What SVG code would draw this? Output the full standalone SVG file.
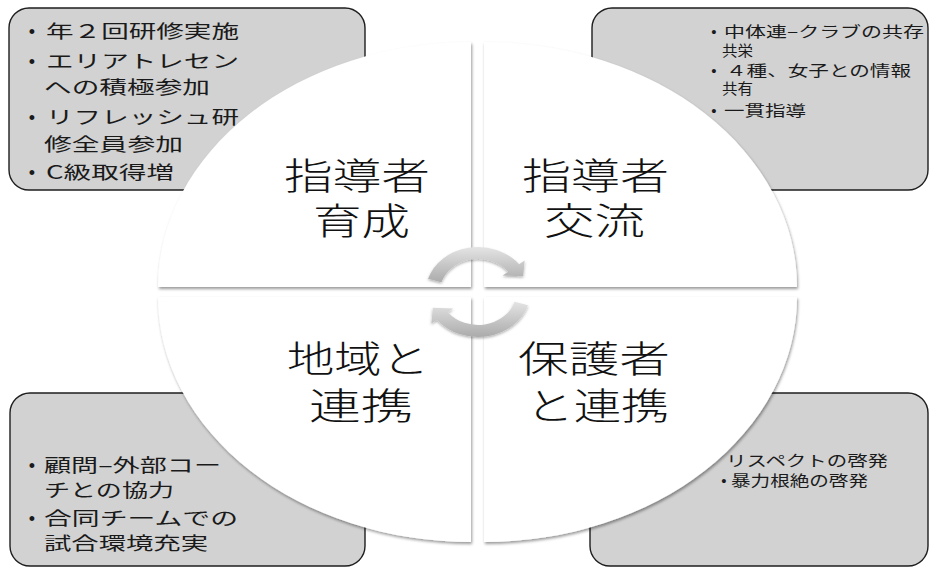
<svg xmlns="http://www.w3.org/2000/svg" width="934" height="570" viewBox="0 0 934 570">
<style>
.box{fill:#d2d2d2;stroke:#1e1e1e;stroke-width:1.4}
.bt{font-family:"Noto Sans CJK JP",sans-serif;font-size:18px;fill:#1a1a1a}
.st{font-family:"Noto Sans CJK JP",sans-serif;font-size:15px;fill:#1a1a1a}
.bul{font-family:"Liberation Sans",sans-serif;fill:#1a1a1a;text-anchor:middle}
.q{fill:#ffffff;filter:url(#sh)}
.big{font-family:"Noto Sans CJK JP",sans-serif;font-size:37px;font-weight:300;fill:#111}
.arr{fill:url(#ag);filter:url(#ash)}
</style>
<defs>
<filter id="sh" x="-10%" y="-10%" width="120%" height="120%">
<feDropShadow dx="1" dy="2" stdDeviation="1.8" flood-color="#000" flood-opacity="0.4"/>
</filter>
<filter id="ash" x="-20%" y="-20%" width="140%" height="140%">
<feDropShadow dx="0" dy="1.5" stdDeviation="1.2" flood-color="#000" flood-opacity="0.3"/>
</filter>
<linearGradient id="ag" x1="0" y1="0" x2="0" y2="1">
<stop offset="0" stop-color="#e4e4e4"/>
<stop offset="1" stop-color="#ababab"/>
</linearGradient>
</defs>

<g id="box-tl">
<rect class="box" x="9" y="8" width="356" height="182" rx="20"/>
<text class="bul" x="32" y="38" font-size="18">•</text>
<text class="bt" x="46" y="38" textLength="193" lengthAdjust="spacingAndGlyphs">年２回研修実施</text>
<text class="bul" x="32" y="67.5" font-size="18">•</text>
<text class="bt" x="46" y="67.5" textLength="193" lengthAdjust="spacingAndGlyphs">エリアトレセン</text>
<text class="bt" x="44" y="94" textLength="166" lengthAdjust="spacingAndGlyphs">への積極参加</text>
<text class="bul" x="32" y="123.5" font-size="18">•</text>
<text class="bt" x="46" y="123.5" textLength="193" lengthAdjust="spacingAndGlyphs">リフレッシュ研</text>
<text class="bt" x="44" y="150.5" textLength="139" lengthAdjust="spacingAndGlyphs">修全員参加</text>
<text class="bul" x="32" y="179" font-size="18">•</text>
<text class="bt" x="46" y="179" textLength="128" lengthAdjust="spacingAndGlyphs">C級取得増</text>
</g>

<g id="box-tr">
<rect class="box" x="592" y="8" width="336" height="182" rx="20"/>
<text class="bul" x="714" y="37" font-size="15">•</text>
<text class="st" x="724" y="37" textLength="200" lengthAdjust="spacingAndGlyphs">中体連–クラブの共存</text>
<text class="st" x="722" y="55.5" textLength="31" lengthAdjust="spacingAndGlyphs">共栄</text>
<text class="bul" x="714" y="75.5" font-size="15">•</text>
<text class="st" x="726" y="75.5" textLength="185" lengthAdjust="spacingAndGlyphs">４種、女子との情報</text>
<text class="st" x="722" y="93.5" textLength="31" lengthAdjust="spacingAndGlyphs">共有</text>
<text class="bul" x="714" y="115.5" font-size="15">•</text>
<text class="st" x="724" y="115.5" textLength="82" lengthAdjust="spacingAndGlyphs">一貫指導</text>
</g>

<g id="box-bl">
<rect class="box" x="10" y="393" width="355" height="173" rx="20"/>
<text class="bul" x="32" y="471.5" font-size="18">•</text>
<text class="bt" x="44" y="471.5" textLength="177" lengthAdjust="spacingAndGlyphs">顧問–外部コー</text>
<text class="bt" x="44" y="497" textLength="130" lengthAdjust="spacingAndGlyphs">チとの協力</text>
<text class="bul" x="32" y="525" font-size="18">•</text>
<text class="bt" x="44" y="525" textLength="194" lengthAdjust="spacingAndGlyphs">合同チームでの</text>
<text class="bt" x="44" y="550" textLength="164" lengthAdjust="spacingAndGlyphs">試合環境充実</text>
</g>

<g id="box-br">
<rect class="box" x="590" y="393" width="338" height="173" rx="20"/>
<text class="st" x="726" y="465.5" textLength="162" lengthAdjust="spacingAndGlyphs">リスペクトの啓発</text>
<text class="bul" x="724" y="485.5" font-size="15">•</text>
<text class="st" x="731" y="485.5" textLength="137" lengthAdjust="spacingAndGlyphs">暴力根絶の啓発</text>
</g>

<g id="q-tl">
<path class="q" d="M471,287 L158,287 A313,245 0 0 1 471,42 Z"/>
<text class="big" x="284" y="189.5" textLength="146" lengthAdjust="spacingAndGlyphs">指導者</text>
<text class="big" x="313" y="234.5" textLength="97" lengthAdjust="spacingAndGlyphs">育成</text>
</g>
<g id="q-tr">
<path class="q" d="M484,287 L484,42 A313,245 0 0 1 797,287 Z"/>
<text class="big" x="522" y="189.5" textLength="147" lengthAdjust="spacingAndGlyphs">指導者</text>
<text class="big" x="544" y="234.5" textLength="101" lengthAdjust="spacingAndGlyphs">交流</text>
</g>
<g id="q-bl">
<path class="q" d="M471,297 L471,542 A313,245 0 0 1 158,297 Z"/>
<text class="big" x="287" y="372.5" textLength="142" lengthAdjust="spacingAndGlyphs">地域と</text>
<text class="big" x="309" y="419.5" textLength="104" lengthAdjust="spacingAndGlyphs">連携</text>
</g>
<g id="q-br">
<path class="q" d="M484,297 L797,297 A313,245 0 0 1 484,542 Z"/>
<text class="big" x="518" y="372.5" textLength="152" lengthAdjust="spacingAndGlyphs">保護者</text>
<text class="big" x="526" y="419.5" textLength="143" lengthAdjust="spacingAndGlyphs">と連携</text>
</g>

<g id="connectors" transform="translate(478,292) scale(1.16,1)">
<path class="arr" d="M-43.03,-13.16 A45,45 0 0 1 35.46,-27.71 L40.19,-31.4 L38.94,-15.73 L21.28,-16.62 L26,-20.32 A33,33 0 0 0 -31.56,-9.65 Z"/>
<path class="arr" d="M43.03,13.16 A45,45 0 0 1 -35.46,27.71 L-40.19,31.4 L-38.94,15.73 L-21.28,16.62 L-26,20.32 A33,33 0 0 0 31.56,9.65 Z"/>
</g>
</svg>
